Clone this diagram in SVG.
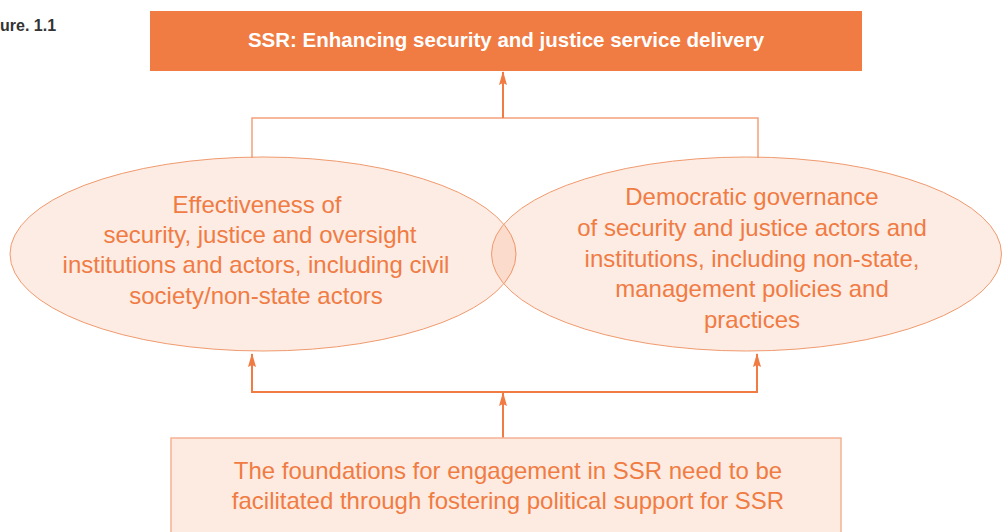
<svg xmlns="http://www.w3.org/2000/svg" width="1002" height="532" viewBox="0 0 1002 532">
<defs>
<style>
.t{font-family:"Liberation Sans",Arial,sans-serif;fill:#f07b43;font-size:24px;text-anchor:middle}
.ell{fill:#f07b43;fill-opacity:0.14;stroke:#f09a6e;stroke-width:1}
.con{fill:none;stroke:#f07b43;stroke-width:2}
.lite{fill:none;stroke:#f3a07a;stroke-width:1.5}
</style>
<marker id="ah" viewBox="0 0 14 10" refX="13" refY="5" markerWidth="14" markerHeight="10" markerUnits="userSpaceOnUse" orient="auto">
<path d="M0,1 L14,5 L0,9 L2,5 Z" fill="#f07b43"/>
</marker>
</defs>
<rect width="1002" height="532" fill="#ffffff"/>
<text x="0" y="31" font-family="Liberation Sans,Arial,sans-serif" font-size="16" font-weight="bold" fill="#333333">ure. 1.1</text>
<g id="connectors">
<path class="lite" d="M252,158 V118 H758 V158"/>
<path class="con" d="M503,118 V72" marker-end="url(#ah)"/>
<path class="con" d="M503,438 V393"/>
<path class="con" d="M503,410 V393" marker-end="url(#ah)"/>
<path class="con" d="M252,392 H757"/>
<path class="con" d="M252,393 V354" marker-end="url(#ah)"/>
<path class="con" d="M757,393 V354" marker-end="url(#ah)"/>
</g>
<g id="top">
<rect x="150" y="11" width="712" height="60" fill="#f07b43"/>
<text x="506" y="47" font-family="Liberation Sans,Arial,sans-serif" font-size="20.5" font-weight="bold" fill="#ffffff" text-anchor="middle">SSR: Enhancing security and justice service delivery</text>
</g>
<g id="effectiveness">
<ellipse class="ell" cx="263" cy="254" rx="253" ry="97"/>
<text class="t" x="257" y="213">Effectiveness of</text>
<text class="t" x="260" y="243">security, justice and oversight</text>
<text class="t" x="256" y="273">institutions and actors, including civil</text>
<text class="t" x="256" y="304">society/non-state actors</text>
</g>
<g id="governance">
<ellipse class="ell" cx="746.5" cy="254" rx="255" ry="97"/>
<text class="t" x="752" y="205">Democratic governance</text>
<text class="t" x="752" y="236">of security and justice actors and</text>
<text class="t" x="752" y="267">institutions, including non-state,</text>
<text class="t" x="752" y="297">management policies and</text>
<text class="t" x="752" y="328">practices</text>
</g>
<g id="foundations">
<rect x="171" y="438" width="670" height="100" fill="#fdebe1" stroke="#f5b393" stroke-width="1.5"/>
<text class="t" x="508" y="479">The foundations for engagement in SSR need to be</text>
<text class="t" x="508" y="509">facilitated through fostering political support for SSR</text>
</g>
</svg>
